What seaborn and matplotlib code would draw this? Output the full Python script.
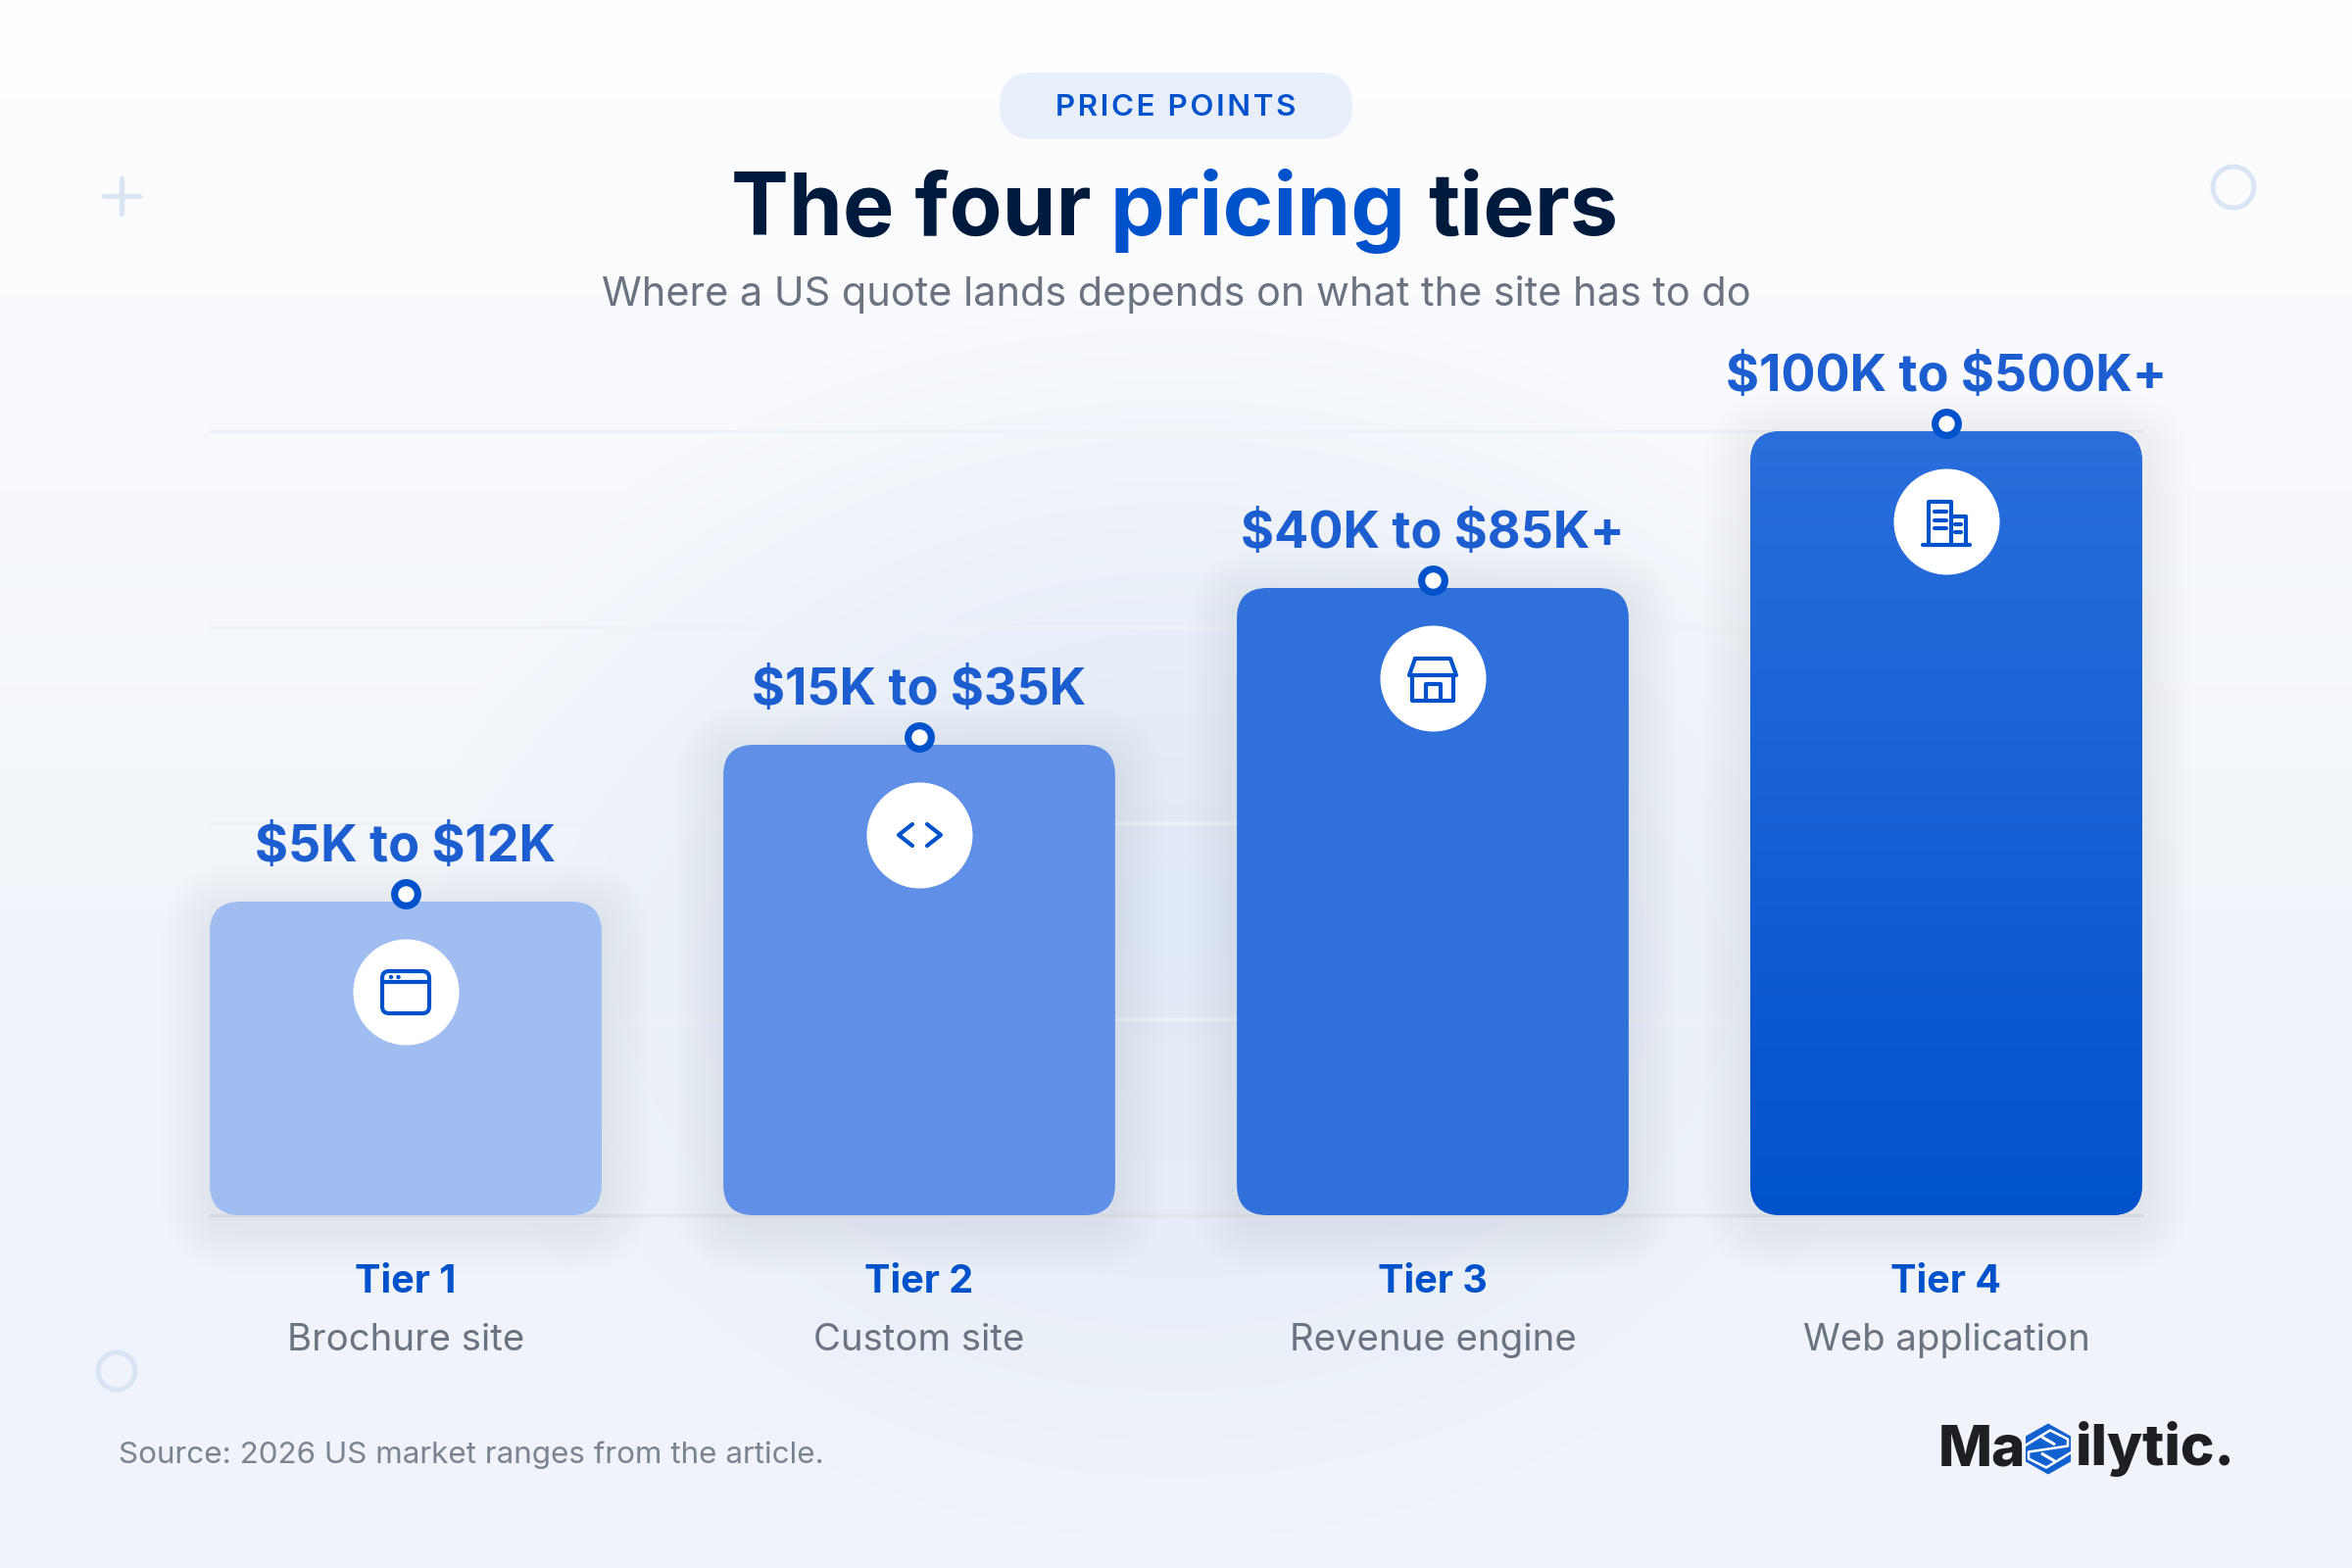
import numpy as np
import pandas as pd
import matplotlib
matplotlib.use("Agg")
import matplotlib.pyplot as plt
import seaborn as sns
from matplotlib.patches import FancyBboxPatch, Circle, Polygon
from matplotlib.transforms import blended_transform_factory

# chart values (bar height is a rank-like share of the axis, not the price itself)
tiers = ["Tier 1", "Tier 2", "Tier 3", "Tier 4"]
kinds = ["Brochure site", "Custom site", "Revenue engine", "Web application"]
heights = [40, 60, 80, 100]
price_labels = ["$5K to $12K", "$15K to $35K", "$40K to $85K+", "$100K to $500K+"]
bar_colors = ["#a0bdf2", "#5f8fe6", "#3070da", "#1d63d4"]
grid_ticks = [0, 25, 50, 75, 100]

BLUE = "#0052cc"
NAVY = "#001a3d"
GREY = "#6b7280"

sns.set_theme(style="white")
plt.rcParams["font.family"] = ["Inter", "DejaVu Sans"]
plt.rcParams["text.parse_math"] = False

fig = plt.figure(figsize=(24, 16), dpi=100)

# background: white to pale blue, with a soft glow in the middle
bg = fig.add_axes([0, 0, 1, 1], zorder=0)
bg.axis("off")
yy, xx = np.mgrid[0:1600, 0:2400]
t = np.clip(yy / 1000, 0, 1)[..., None]
base = (1 - t) * np.array([254, 254, 255]) + t * np.array([240, 244, 250])
dist = np.sqrt(((xx - 1200) / 760) ** 2 + ((yy - 930) / 640) ** 2)
glow = np.clip(1 - dist, 0, 1)[..., None] ** 0.9
img = (1 - glow) * base + glow * np.array([224, 233, 246])
bg.imshow(img / 255, extent=(0, 2400, 1600, 0), aspect="auto", interpolation="bilinear")
bg.set_xlim(0, 2400)
bg.set_ylim(1600, 0)

# plot area: 214..2186 px wide, baseline at 1240, top gridline at 440
ax = fig.add_axes([214 / 2400, (1600 - 1240) / 1600, 1972 / 2400, 800 / 1600], zorder=1)
ax.patch.set_alpha(0)

df = pd.DataFrame({"tier": tiers, "height": heights})
sns.barplot(data=df, x="tier", y="height", hue="tier", palette=bar_colors, legend=False,
            width=0.763, saturation=1, linewidth=0, ax=ax, zorder=3)
ax.set_xlim(-0.3817, 3.3817)
ax.set_ylim(0, 100)
ax.set_xlabel("")
ax.set_ylabel("")
ax.set_yticks(grid_ticks)
ax.tick_params(axis="y", left=False, labelleft=False)
ax.tick_params(axis="x", bottom=False, pad=30)
for lab in ax.get_xticklabels():
    lab.set_fontsize(28.5)
    lab.set_fontweight("bold")
    lab.set_color(BLUE)
sns.despine(ax=ax, left=True, bottom=True)
for v in grid_ticks:
    ax.axhline(v, color="#e2e6ed" if v == 0 else "#edf1f8", lw=2.5, zorder=1, clip_on=False)

tr = blended_transform_factory(ax.transData, fig.transFigure)
for i, k in enumerate(kinds):
    ax.text(i, 1 - 1368 / 1600, k, transform=tr, ha="center", va="center", fontsize=27.6, color=GREY)

# rounded corners and shadow on each bar
px_x = 3.7634 / 1972
px_y = 100 / 800
rx = 31 * px_x
ry = 31 * px_y
shapes = []
for i, bar in enumerate(ax.patches[:4]):
    x, w, h = bar.get_x(), bar.get_width(), bar.get_height()
    shape = FancyBboxPatch((x + rx, ry), w - 2 * rx, h - 2 * ry,
                           boxstyle=f"round,pad={rx},rounding_size={rx}", mutation_aspect=ry / rx,
                           fc="none", ec="none", zorder=0)
    ax.add_patch(shape)
    bar.set_clip_path(shape)
    shapes.append(shape)
    for grow in range(14):
        gx = (grow + 1) * 3.5 * px_x
        sh = FancyBboxPatch((x + rx, ry - 10 * px_y), w - 2 * rx, h - 2 * ry,
                            boxstyle=f"round,pad={rx + gx},rounding_size={rx + gx}", mutation_aspect=ry / rx,
                            fc="#3d63b0", ec="none", alpha=0.004, zorder=2, clip_on=False)
        ax.add_patch(sh)

# tier 4 fades down to a deeper blue
bar = ax.patches[3]
top_rgb = np.array([43, 110, 220])
low_rgb = np.array([0, 82, 204])
grad = np.linspace(0, 1, 256)[:, None, None] * (low_rgb - top_rgb) + top_rgb
im = ax.imshow(grad / 255, extent=(bar.get_x(), bar.get_x() + bar.get_width(), 0, bar.get_height()),
               aspect="auto", origin="upper", zorder=3.5)
im.set_clip_path(shapes[3])
ax.set_xlim(-0.3817, 3.3817)
ax.set_ylim(0, 100)

# rings on the bar tops, white discs for the icons
for i, v in enumerate(heights):
    ax.scatter(i, v + 8 * px_y, s=290, facecolor="white", edgecolor=BLUE, linewidth=5.2,
               zorder=6, clip_on=False)
    ax.scatter(i, v - 92 * px_y, s=6050, color="white", linewidth=0, zorder=6, clip_on=False)
    ax.text(i, v + 54 * px_y, price_labels[i], ha="center", va="center", fontsize=37.5,
            fontweight="bold", color="#1c5dcf", zorder=6, clip_on=False)

# overlay in pixel coordinates for header, icons and the small decorations
ov = fig.add_axes([0, 0, 1, 1], zorder=2)
ov.axis("off")
ov.patch.set_alpha(0)
ov.set_xlim(0, 2400)
ov.set_ylim(1600, 0)

ov.add_patch(FancyBboxPatch((1054, 108), 292, 0, boxstyle="round,pad=34,rounding_size=34",
                            fc="#e8effb", ec="none"))
ov.text(1200, 110, "P\u200aR\u200aI\u200aC\u200aE\u200a \u200aP\u200aO\u200aI\u200aN\u200aT\u200aS",
        ha="center", va="center", fontsize=22.5, fontweight="semibold", color=BLUE)

# title in three colours, words placed where the reference has them
title_size = 63.5
ov.text(746, 240, "The four", fontsize=title_size, fontweight="bold", color=NAVY, ha="left", va="baseline")
ov.text(1132, 240, "pricing", fontsize=title_size, fontweight="bold", color=BLUE, ha="left", va="baseline")
ov.text(1457, 240, "tiers", fontsize=title_size, fontweight="bold", color=NAVY, ha="left", va="baseline")

ov.text(1200, 300, "Where a US quote lands depends on what the site has to do",
        ha="center", va="center", fontsize=29.8, color=GREY)
ov.text(121, 1485, "Source: 2026 US market ranges from the article.",
        ha="left", va="center", fontsize=22.6, color="#7b8290")

# decorations
pale = "#d9e4f5"
ov.plot([106, 142], [200, 200], color=pale, lw=3.8, solid_capstyle="round")
ov.plot([124, 124], [182, 218], color=pale, lw=3.8, solid_capstyle="round")
ov.add_patch(Circle((2279, 191), 21, fc="none", ec=pale, lw=3.6))
ov.add_patch(Circle((119, 1399), 19, fc="none", ec=pale, lw=3.6))

# icons, centred on the discs
lw_i = 3
def icon_line(cx, cy, pts, **kw):
    ov.plot([cx + p[0] for p in pts], [cy + p[1] for p in pts], color=BLUE, lw=lw_i,
            solid_joinstyle="round", solid_capstyle="round", zorder=8, **kw)

def icon_browser(cx, cy):
    ov.add_patch(FancyBboxPatch((cx - 24, cy - 21), 48, 43, boxstyle="round,pad=0,rounding_size=7",
                                fc="none", ec=BLUE, lw=lw_i, zorder=8))
    icon_line(cx, cy, [(-24, -10), (24, -10)])
    ov.add_patch(Circle((cx - 15, cy - 15), 2.2, fc=BLUE, ec="none", zorder=8))
    ov.add_patch(Circle((cx - 7.5, cy - 15), 2.2, fc=BLUE, ec="none", zorder=8))

def icon_code(cx, cy):
    icon_line(cx, cy, [(-7, -11), (-21, 0), (-7, 11)])
    icon_line(cx, cy, [(8, -11), (22, 0), (8, 11)])

def icon_store(cx, cy):
    icon_line(cx, cy, [(-18, -20), (18, -20), (24, -3), (-24, -3), (-18, -20)])
    icon_line(cx, cy, [(-21, -3), (-21, 23), (21, 23), (21, -3)])
    icon_line(cx, cy, [(-7, 23), (-7, 6), (8, 6), (8, 23)])

def icon_building(cx, cy):
    icon_line(cx, cy, [(-18, 23), (-18, -20), (5, -20), (5, 23)])
    icon_line(cx, cy, [(5, -5), (20, -5), (20, 23)])
    icon_line(cx, cy, [(-24, 24), (24, 24)])
    for yy_ in (-10, -1, 7):
        icon_line(cx, cy, [(-12, yy_), (0, yy_)])
    for yy_ in (3, 11):
        icon_line(cx, cy, [(9, yy_), (15, yy_)])

icons = [icon_browser, icon_code, icon_store, icon_building]
fig.canvas.draw()
for i, v in enumerate(heights):
    dx, dy = ax.transData.transform((i, v - 92 * px_y))
    icons[i](dx, 1600 - dy)

# logo: wordmark with a hexagon standing in for the x
logo_c = "#1f1f23"
ov.text(1978, 1495, "Ma", fontsize=42, fontweight="heavy", color=logo_c, ha="left", va="baseline")
ov.text(2118, 1495, "ilytic.", fontsize=42, fontweight="heavy", color=logo_c, ha="left", va="baseline")
hx, hy = 2090, 1478.5
ov.add_patch(Polygon([(hx, hy - 26), (hx + 23, hy - 13), (hx + 23, hy + 13),
                      (hx, hy + 26), (hx - 23, hy + 13), (hx - 23, hy - 13)],
                     closed=True, fc="#1261d1", ec="none"))
ov.plot([hx - 26, hx + 2, hx + 20, hx + 20, hx - 20, hx - 20, hx - 2, hx + 26],
        [hy - 2, hy - 19, hy - 10, hy - 3, hy + 3, hy + 10, hy + 19, hy + 2], color="white", lw=1.8)
ov.plot([hx - 6, hx + 6], [hy - 12, hy - 5], color="white", lw=2.2, solid_capstyle="round")
ov.plot([hx + 6, hx - 6], [hy + 12, hy + 5], color="white", lw=2.2, solid_capstyle="round")

fig.savefig("out.png", dpi=100)
